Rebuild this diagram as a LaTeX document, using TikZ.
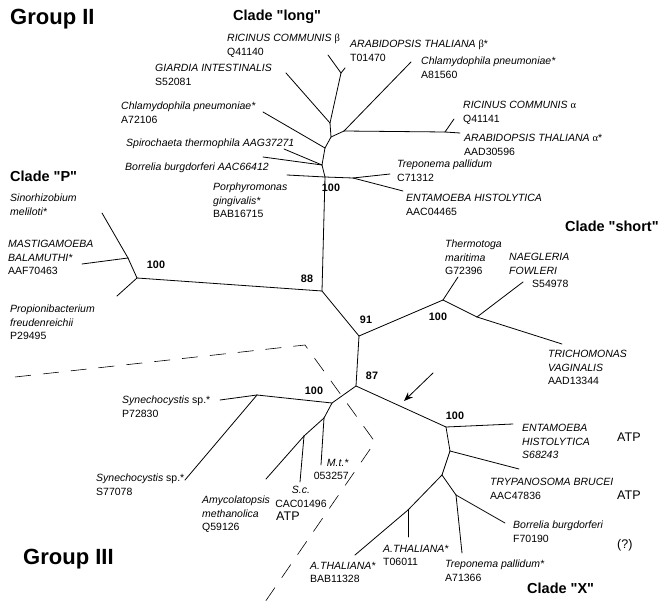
\documentclass[tikz,border=0pt]{standalone}
\usepackage{fontspec}
\setmainfont{Liberation Sans}
\newfontfamily\grk{Liberation Serif}
\newfontfamily\plainsans{Liberation Sans}
\usepackage{tikz}
\usetikzlibrary{arrows.meta}

\begin{document}
\begin{tikzpicture}
[x=1pt, y=-1pt,
 br/.style={line width=0.8pt, line cap=round},
 lab/.style={anchor=north west, inner sep=0pt, align=left, font={\fontsize{10.5}{13.5}\selectfont}},
 boot/.style={inner sep=0pt, font={\bfseries\fontsize{10.8}{12}\selectfont}},
 clade/.style={anchor=north west, inner sep=0pt, font={\plainsans\bfseries\fontsize{14.5}{16}\selectfont}},
 grp/.style={anchor=north west, inner sep=0pt, font={\bfseries\fontsize{22}{24}\selectfont}},
 atp/.style={anchor=north west, inner sep=0pt, font={\fontsize{12.5}{14}\selectfont}},
 split/.style={line width=0.6pt, dash pattern=on 16pt off 12pt}]

\useasboundingbox (0,0) rectangle (662,602);
\clip (0,0) rectangle (662,602);

% inner nodes of the tree
\coordinate (n1) at (341,73);
\coordinate (n2) at (330,123);
\coordinate (n3) at (331,137);
\coordinate (n4) at (344,131);
\coordinate (n5) at (445,132);
\coordinate (n6) at (325,148);
\coordinate (n7) at (322,165);
\coordinate (n8) at (325,177);
\coordinate (n9) at (353,178);
\coordinate (n88) at (322,291);
\coordinate (p1) at (137,278);
\coordinate (p2) at (128,258);
\coordinate (n91) at (359,336);
\coordinate (s1) at (443,300);
\coordinate (s2) at (477,317);
\coordinate (n87) at (356,386);
\coordinate (g0) at (257,395);
\coordinate (g1) at (332,403);
\coordinate (g2) at (324,418);
\coordinate (g3) at (304,436);
\coordinate (x1) at (446,427);
\coordinate (x2) at (450,451);
\coordinate (x3) at (442,475);
\coordinate (x4) at (456,495);
\coordinate (x5) at (408,510);

% leaves
\coordinate (tricb) at (328,55);
\coordinate (tarab) at (345,68);
\coordinate (tgiar) at (286,73);
\coordinate (tchla) at (411,62);
\coordinate (trica) at (454,119);
\coordinate (taraa) at (460,133);
\coordinate (tchlb) at (263,112);
\coordinate (tspir) at (284,149);
\coordinate (tborr) at (263,157);
\coordinate (tporp) at (287,175);
\coordinate (ttrep) at (390,174);
\coordinate (tenta) at (403,191);
\coordinate (tsino) at (102,213);
\coordinate (tmast) at (82,264);
\coordinate (tprop) at (117,296);
\coordinate (tther) at (458,277);
\coordinate (tnaeg) at (523,282);
\coordinate (ttric) at (562,344);
\coordinate (tsyna) at (220,400);
\coordinate (tsynb) at (185,480);
\coordinate (tmt) at (321,465);
\coordinate (tsc) at (300,482);
\coordinate (tamy) at (266,479);
\coordinate (tentb) at (513,424);
\coordinate (ttryp) at (519,469);
\coordinate (tborf) at (505,523);
\coordinate (ttrpb) at (462,553);
\coordinate (tatha) at (408,537);
\coordinate (tathb) at (355,555);

% arrow and dashed border
\coordinate (a0) at (433,373);
\coordinate (a1) at (404,401);
\coordinate (d0) at (15,377);
\coordinate (d1) at (305,345);
\coordinate (d2) at (375,442);
\coordinate (d3) at (265,602);

% group and clade titles
\node (grpii) at (10,9) [grp] {Group II};
\node (grpiii) at (23,549) [grp] {Group III};
\node (clong) at (233,10) [clade] {Clade "long"};
\node (cp) at (10,171) [clade] {Clade "P"};
\node (cshort) at (565,221) [clade] {Clade "short"};
\node (cx) at (527,583) [clade] {Clade "X"};

% bootstrap values
\node (b1) at (331,188) [boot] {100};
\node (b2) at (156,265) [boot] {100};
\node (b3) at (307,279) [boot] {88};
\node (b4) at (366,320) [boot] {91};
\node (b5) at (438,317) [boot] {100};
\node (b6) at (372,376) [boot] {87};
\node (b7) at (314,391) [boot] {100};
\node (b8) at (455,416) [boot] {100};

% leaf labels
\node (lricb) at (227,34) [lab] {\textit{RICINUS COMMUNIS} {\grk β}\\Q41140};
\node (larab) at (350,40) [lab] {\textit{ARABIDOPSIS THALIANA} {\grk β}*\\T01470};
\node (lchla) at (421,57) [lab] {\textit{Chlamydophila pneumoniae*}\\A81560};
\node (lgiar) at (155,64) [lab] {\textit{GIARDIA INTESTINALIS}\\S52081};
\node (lchlb) at (121,102) [lab] {\textit{Chlamydophila pneumoniae*}\\A72106};
\node (lspir) at (126,139) [lab] {\textit{Spirochaeta thermophila AAG37271}};
\node (lborr) at (125,163) [lab] {\textit{Borrelia burgdorferi AAC66412}};
\node (lporp) at (213,183) [lab] {\textit{Porphyromonas}\\\textit{gingivalis*}\\BAB16715};
\node (lrica) at (463,101) [lab] {\textit{RICINUS COMMUNIS} {\grk α}\\Q41141};
\node (laraa) at (464,134) [lab] {\textit{ARABIDOPSIS THALIANA} {\grk α}*\\AAD30596};
\node (ltrep) at (397,160) [lab] {\textit{Treponema pallidum}\\C71312};
\node (lenta) at (406,194) [lab] {\textit{ENTAMOEBA HISTOLYTICA}\\AAC04465};
\node (lsino) at (10,194) [lab] {\textit{Sinorhizobium}\\\textit{meliloti*}};
\node (lmast) at (8,240) [lab] {\textit{MASTIGAMOEBA}\\\textit{BALAMUTHI*}\\AAF70463};
\node (lprop) at (10,305) [lab] {\textit{Propionibacterium}\\\textit{freudenreichii}\\P29495};
\node (lther) at (445,240) [lab] {\textit{Thermotoga}\\\textit{maritima}\\G72396};
\node (lnaeg) at (509,253) [lab] {\textit{NAEGLERIA}\\\textit{FOWLERI}\\\hspace*{23pt}S54978};
\node (ltric) at (548,350) [lab] {\textit{TRICHOMONAS}\\\textit{VAGINALIS}\\AAD13344};
\node (lsyna) at (122,396) [lab] {\textit{Synechocystis} sp.*\\P72830};
\node (lsynb) at (96,474) [lab] {\textit{Synechocystis} sp.*\\S77078};
\node (lamy) at (202,496) [lab] {\textit{Amycolatopsis}\\\textit{methanolica}\\Q59126};
\node (lsc) at (301,486) [lab, anchor=north, align=center] {\textit{S.c.}\\CAC01496};
\node (lmt) at (349,459) [lab, anchor=north east, align=right] {\textit{M.t.*}\\053257};
\node (latpa) at (276,512) [atp] {ATP};
\node (lentb) at (522,424) [lab] {\textit{ENTAMOEBA}\\\textit{HISTOLYTICA}\\\textit{S68243}};
\node (latpb) at (617,433) [atp] {ATP};
\node (ltryp) at (490,478) [lab] {\textit{TRYPANOSOMA BRUCEI}\\AAC47836};
\node (latpc) at (617,491) [atp] {ATP};
\node (lborf) at (513,521) [lab] {\textit{Borrelia burgdorferi}\\F70190};
\node (lunk) at (617,539) [atp] {(?)};
\node (latha) at (383,545) [lab] {\textit{A.THALIANA*}\\T06011};
\node (lathb) at (310,562) [lab] {\textit{A.THALIANA*}\\BAB11328};
\node (ltrpb) at (445,560) [lab] {\textit{Treponema pallidum*}\\A71366};

% clade "long"
\draw [br] (tricb) -- (n1);
\draw [br] (tarab) -- (n1);
\draw [br] (n1) -- (n2);
\draw [br] (tgiar) -- (n2);
\draw [br] (n2) -- (n3);
\draw [br] (n3) -- (n4);
\draw [br] (n4) -- (tchla);
\draw [br] (n4) -- (n5);
\draw [br] (n5) -- (trica);
\draw [br] (n5) -- (taraa);
\draw [br] (n3) -- (n6);
\draw [br] (tchlb) -- (n6);
\draw [br] (n6) -- (n7);
\draw [br] (tspir) -- (n7);
\draw [br] (tborr) -- (n7);
\draw [br] (n7) -- (n8);
\draw [br] (tporp) -- (n8);
\draw [br] (n8) -- (n9);
\draw [br] (n9) -- (ttrep);
\draw [br] (n9) -- (tenta);
\draw [br] (n8) -- (n88);
% clade "P"
\draw [br] (n88) -- (p1);
\draw [br] (p1) -- (p2);
\draw [br] (p2) -- (tsino);
\draw [br] (p2) -- (tmast);
\draw [br] (p1) -- (tprop);
% clade "short"
\draw [br] (n88) -- (n91);
\draw [br] (n91) -- (s1);
\draw [br] (s1) -- (tther);
\draw [br] (s1) -- (s2);
\draw [br] (s2) -- (tnaeg);
\draw [br] (s2) -- (ttric);
\draw [br] (n91) -- (n87);
% group III
\draw [br] (n87) -- (g1);
\draw [br] (g1) -- (g0);
\draw [br] (g0) -- (tsyna);
\draw [br] (g0) -- (tsynb);
\draw [br] (g1) -- (g2);
\draw [br] (g2) -- (tmt);
\draw [br] (g2) -- (g3);
\draw [br] (g3) -- (tsc);
\draw [br] (g3) -- (tamy);
% clade "X"
\draw [br] (n87) -- (x1);
\draw [br] (x1) -- (tentb);
\draw [br] (x1) -- (x2);
\draw [br] (x2) -- (ttryp);
\draw [br] (x2) -- (x3);
\draw [br] (x3) -- (x4);
\draw [br] (x4) -- (tborf);
\draw [br] (x4) -- (ttrpb);
\draw [br] (x3) -- (x5);
\draw [br] (x5) -- (tatha);
\draw [br] (x5) -- (tathb);

\draw [br, -{Stealth[length=9pt, width=7pt]}] (a0) -- (a1);
\draw [split] (d0) -- (d1) -- (d2) -- (d3);
\end{tikzpicture}
\end{document}
